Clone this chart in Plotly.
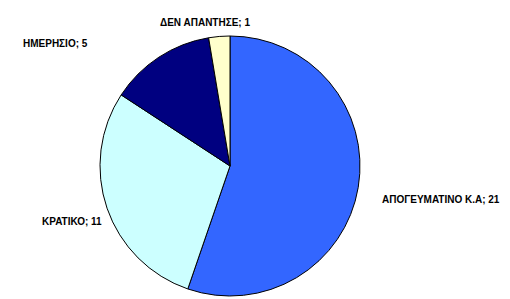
import plotly.graph_objects as go

labels = ["ΑΠΟΓΕΥΜΑΤΙΝΟ Κ.Α", "ΚΡΑΤΙΚΟ", "ΗΜΕΡΗΣΙΟ", "ΔΕΝ ΑΠΑΝΤΗΣΕ"]
values = [21, 11, 5, 1]
colors = ["#3366FF", "#CCFFFF", "#000080", "#FFFFCC"]

# label anchor positions (paper coords, left-anchored)
label_pos = [(372 / 510, 1 - 191 / 299), (32 / 510, 1 - 213 / 299),
             (13 / 510, 1 - 35 / 299), (150 / 510, 1 - 15 / 299)]

fig = go.Figure(go.Pie(
    labels=labels, values=values, sort=False, direction="clockwise", rotation=0,
    marker=dict(colors=colors, line=dict(color="black", width=1)),
    textinfo="none", hoverinfo="label+value",
    domain=dict(x=[92 / 510, 352 / 510], y=[11 / 299, 271 / 299]),
    showlegend=False,
))

for lab, val, (x, y) in zip(labels, values, label_pos):
    fig.add_annotation(x=x, y=y, xref="paper", yref="paper", xanchor="left", yanchor="middle",
                       text=f"<b>{lab}; {val}</b>", showarrow=False,
                       font=dict(family="Liberation Sans, Arial", size=10, color="black"))

fig.update_layout(width=510, height=299, margin=dict(l=0, r=0, t=0, b=0),
                  paper_bgcolor="white", plot_bgcolor="white")
fig.write_html("out.html")
